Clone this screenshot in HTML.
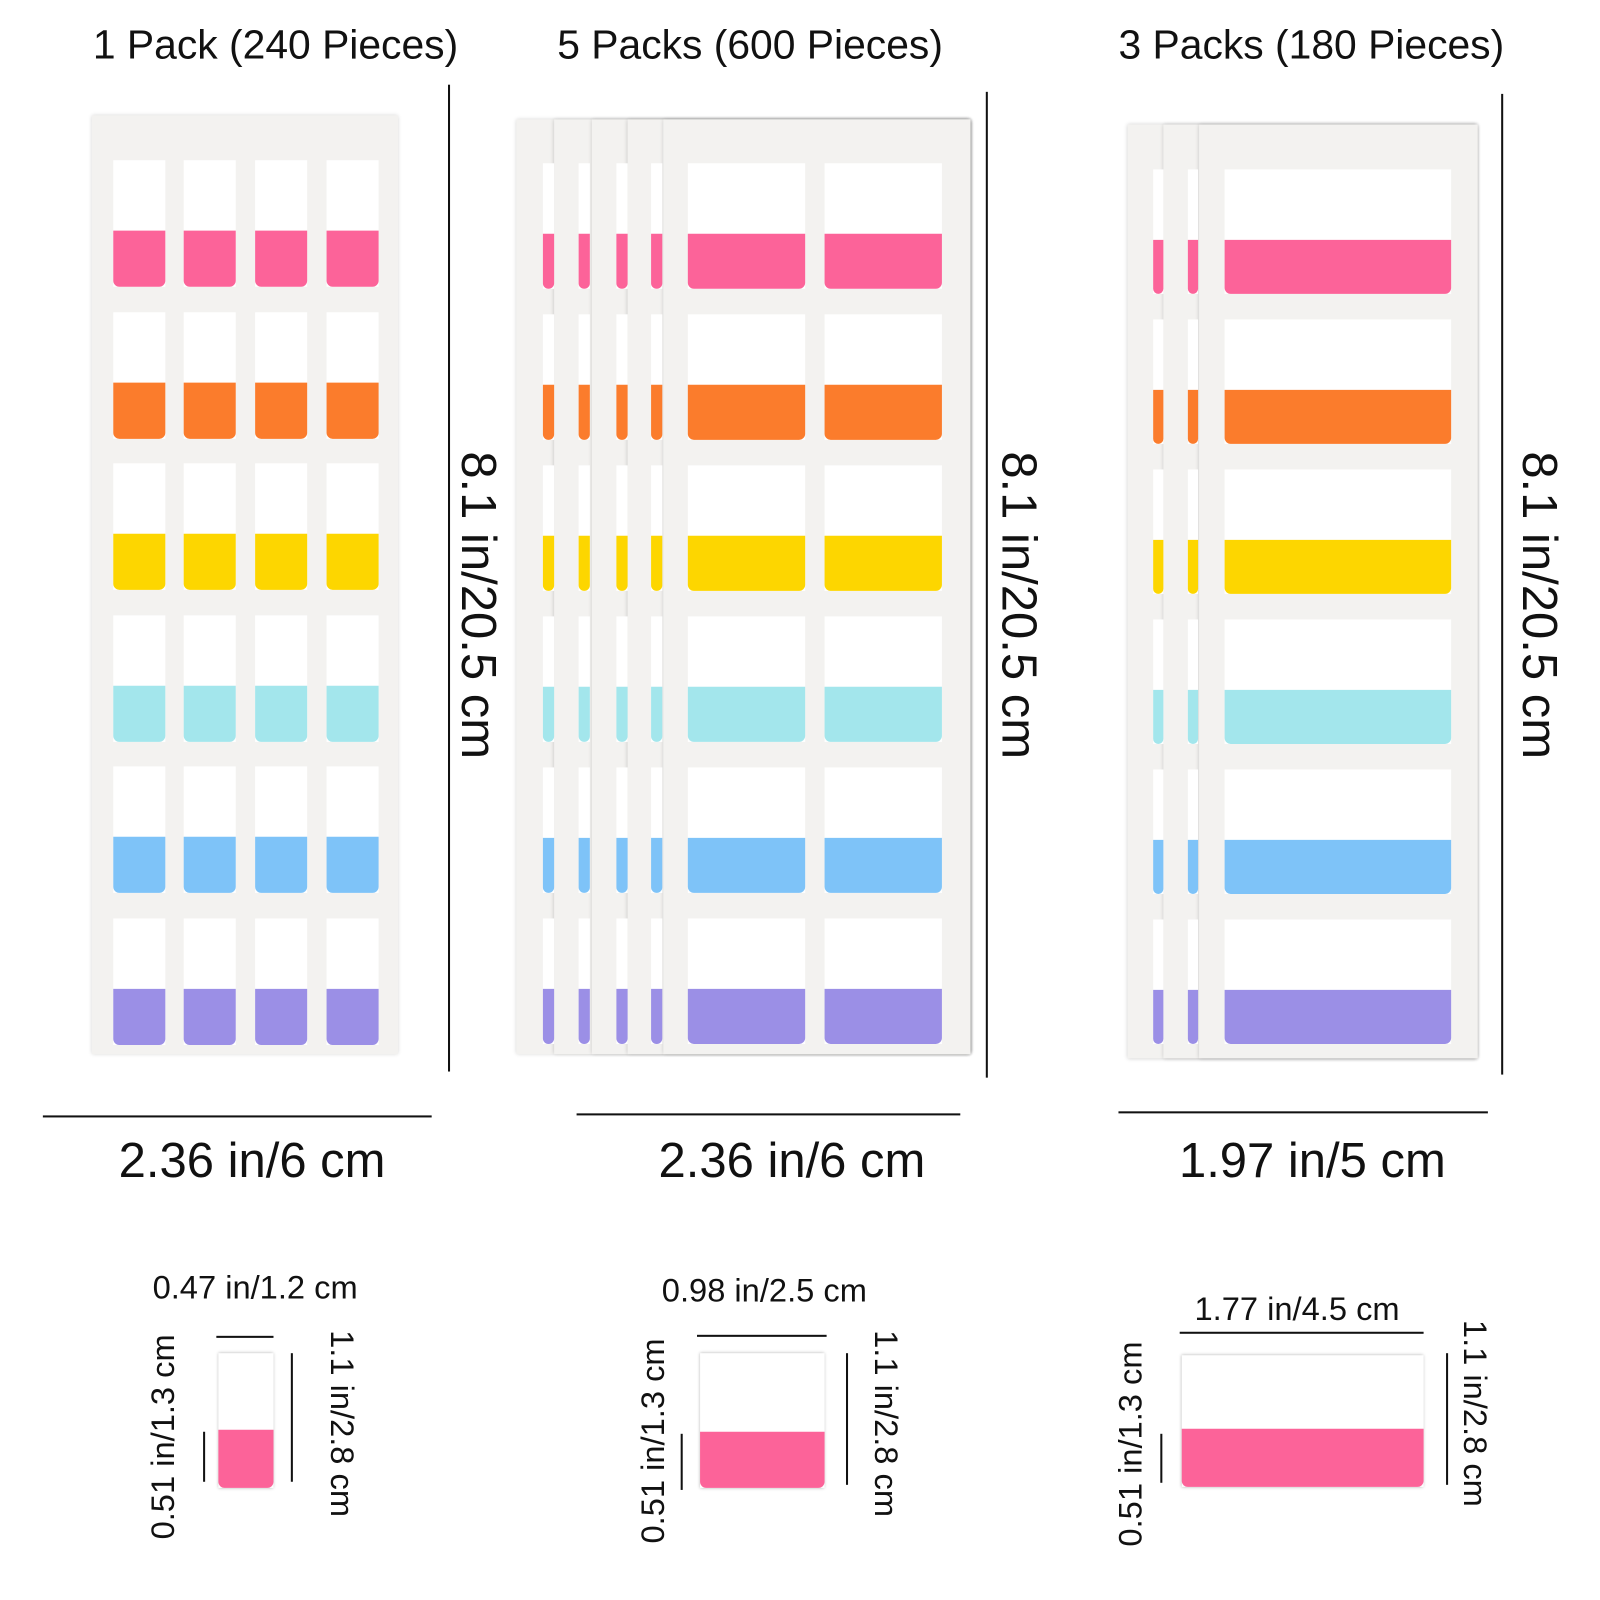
<!DOCTYPE html>
<html><head><meta charset="utf-8">
<style>
html,body{margin:0;padding:0;background:#fff;}
body{width:1600px;height:1600px;overflow:hidden;position:relative;}
#w{position:absolute;left:0;top:0;width:1560px;height:1560px;transform:scale(1.0205);transform-origin:0 0;font-family:"Liberation Sans",sans-serif;color:#111;}
.t{position:absolute;white-space:nowrap;transform:translate(-50%,-50%);}
.r90{transform:translate(-50%,-50%) rotate(90deg);}
.rm90{transform:translate(-50%,-50%) rotate(-90deg);}
.sheet{position:absolute;background:#f3f2f0;box-shadow:0 0 4px rgba(0,0,0,.2);}
.tab{position:absolute;background:#fff;}
.c{position:absolute;left:0;right:0;bottom:0;border-radius:0 0 6px 6px;}
.vl{position:absolute;width:2px;background:#111;}
.hl{position:absolute;height:2px;background:#111;}
</style></head><body>
<div id="w">
<div class="t" style="left:270px;top:45px;font-size:40px">1 Pack (240 Pieces)</div>
<div class="t" style="left:735px;top:45px;font-size:40px">5 Packs (600 Pieces)</div>
<div class="t" style="left:1285px;top:45px;font-size:40px">3 Packs (180 Pieces)</div>

<div class="sheet" style="left:90px;top:113px;width:300px;height:920px"></div>
<div class="sheet" style="left:506px;top:117px;width:445px;height:916px"></div>
<div class="sheet" style="left:543px;top:117px;width:408px;height:916px"></div>
<div class="sheet" style="left:580px;top:117px;width:371px;height:916px"></div>
<div class="sheet" style="left:615px;top:117px;width:336px;height:916px"></div>
<div class="sheet" style="left:650px;top:117px;width:301px;height:916px"></div>
<div class="sheet" style="left:1105px;top:122px;width:343px;height:915px"></div>
<div class="sheet" style="left:1140px;top:122px;width:308px;height:915px"></div>
<div class="sheet" style="left:1175px;top:122px;width:273px;height:915px"></div>
<div id="tabs"></div>

<div class="vl" style="left:439px;top:83px;height:967px"></div>
<div class="t r90" style="left:468px;top:593px;font-size:48px">8.1 in/20.5 cm</div>
<div class="hl" style="left:42px;top:1093px;width:381px"></div>
<div class="t" style="left:247px;top:1138px;font-size:48px">2.36 in/6 cm</div>

<div class="vl" style="left:966px;top:90px;height:966px"></div>
<div class="t r90" style="left:998px;top:593px;font-size:48px">8.1 in/20.5 cm</div>
<div class="hl" style="left:565px;top:1091px;width:376px"></div>
<div class="t" style="left:776px;top:1138px;font-size:48px">2.36 in/6 cm</div>

<div class="vl" style="left:1471px;top:92px;height:961px"></div>
<div class="t r90" style="left:1508px;top:593px;font-size:48px">8.1 in/20.5 cm</div>
<div class="hl" style="left:1096px;top:1089px;width:362px"></div>
<div class="t" style="left:1286px;top:1138px;font-size:48px">1.97 in/5 cm</div>

<div class="t" style="left:250px;top:1262px;font-size:32px">0.47 in/1.2 cm</div>
<div class="hl" style="left:212px;top:1309px;width:56px"></div>
<div class="tab" style="left:214px;top:1326px;width:54px;height:132px;box-shadow:0 0 3px rgba(0,0,0,.3)"><div class="c" style="height:57px;background:#fc6399"></div></div>
<div class="vl" style="left:199px;top:1403px;height:49px"></div>
<div class="t rm90" style="left:160px;top:1408px;font-size:32px">0.51 in/1.3 cm</div>
<div class="vl" style="left:285px;top:1326px;height:126px"></div>
<div class="t r90" style="left:335px;top:1395px;font-size:32px">1.1 in/2.8 cm</div>

<div class="t" style="left:749px;top:1265px;font-size:32px">0.98 in/2.5 cm</div>
<div class="hl" style="left:683px;top:1308px;width:127px"></div>
<div class="tab" style="left:686px;top:1326px;width:122px;height:132px;box-shadow:0 0 3px rgba(0,0,0,.3)"><div class="c" style="height:55px;background:#fc6399"></div></div>
<div class="vl" style="left:667px;top:1405px;height:55px"></div>
<div class="t rm90" style="left:640px;top:1412px;font-size:32px">0.51 in/1.3 cm</div>
<div class="vl" style="left:829px;top:1326px;height:129px"></div>
<div class="t r90" style="left:868px;top:1395px;font-size:32px">1.1 in/2.8 cm</div>

<div class="t" style="left:1271px;top:1283px;font-size:32px">1.77 in/4.5 cm</div>
<div class="hl" style="left:1156px;top:1305px;width:239px"></div>
<div class="tab" style="left:1158px;top:1328px;width:237px;height:129px;box-shadow:0 0 3px rgba(0,0,0,.3)"><div class="c" style="height:57px;background:#fc6399"></div></div>
<div class="vl" style="left:1137px;top:1405px;height:48px"></div>
<div class="t rm90" style="left:1108px;top:1415px;font-size:32px">0.51 in/1.3 cm</div>
<div class="vl" style="left:1417px;top:1326px;height:129px"></div>
<div class="t r90" style="left:1445px;top:1385px;font-size:32px">1.1 in/2.8 cm</div>
</div>
<script>
var cols=["#fc6399","#fb7c2c","#fdd600","#a3e6ec","#7ec3f8","#9b8fe6"];
var h="",col;
function tab(x,y,w,wh,ch){h+='<div class="tab" style="left:'+x+'px;top:'+y+'px;width:'+w+'px;height:'+(wh+ch)+'px"><div class="c" style="height:'+ch+'px;background:'+col+'"></div></div>';}
for(var i=0;i<6;i++){col=cols[i];
 var y1=157+i*148.5;[111,180,250,320].forEach(function(x){tab(x,y1,51,69,55);});
 var y2=160+i*148;[532,567,604,638].forEach(function(x){tab(x,y2,11,69,54);});
 tab(674,y2,115,69,54);tab(808,y2,115,69,54);
 var y3=166+i*147;[1130,1164].forEach(function(x){tab(x,y3,10,69,53);});
 tab(1200,y3,222,69,53);
}
document.getElementById("tabs").innerHTML=h;
</script>
</body></html>
